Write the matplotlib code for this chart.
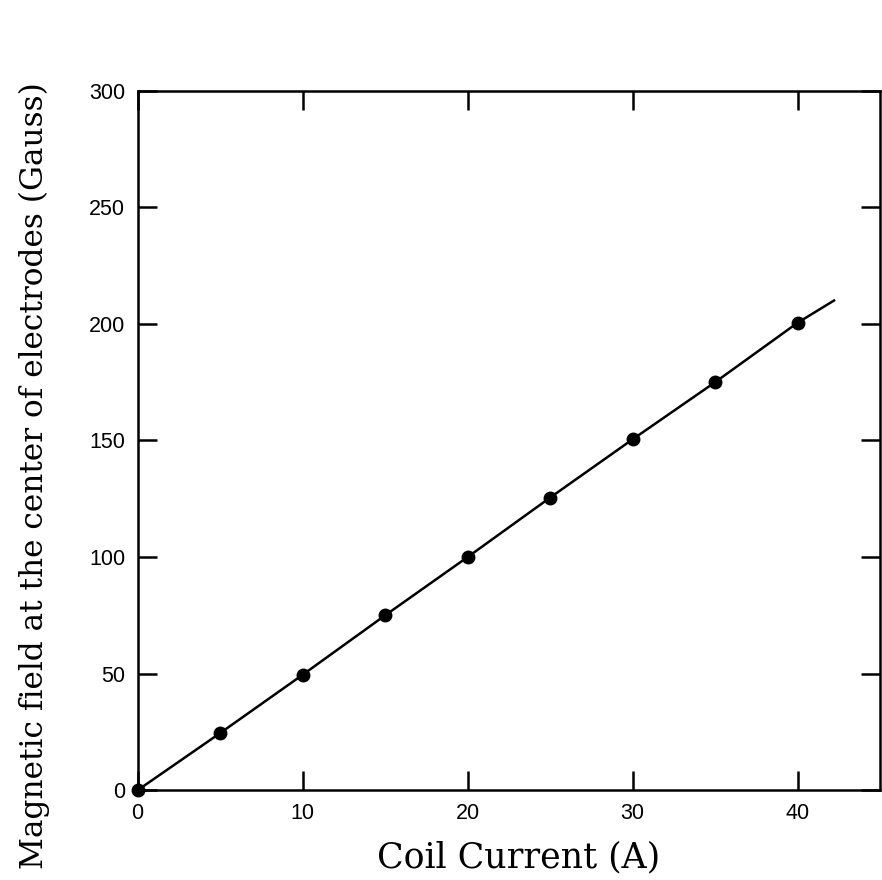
import matplotlib.pyplot as plt

# measured points (coil current in A, field in Gauss)
current = [0, 5, 10, 15, 20, 25, 30, 35, 40]
field = [0, 24.5, 49.5, 75, 100, 125.5, 150.5, 175, 200.5]

# the drawn curve follows the points and runs a little past the last one
curve_current = current + [42.2]
curve_field = field + [210]

x_ticks = [0, 10, 20, 30, 40]
y_ticks = [0, 50, 100, 150, 200, 250, 300]

fig = plt.figure(figsize=(8.82, 8.80), dpi=100)
ax = fig.add_axes([0.156, 0.102, 0.842, 0.795])

ax.plot(curve_current, curve_field, color="black", lw=1.8, clip_on=False)
ax.plot(current, field, "o", color="black", ms=9, clip_on=False, zorder=3)

ax.set_xlim(0, 45)
ax.set_ylim(0, 300)
ax.set_xticks(x_ticks)
ax.set_yticks(y_ticks)

for s in ax.spines.values():
    s.set_linewidth(1.8)

ax.tick_params(direction="in", length=14, width=1.8, top=True, right=True,
               labelsize=15.5, pad=9)
for lab in ax.get_xticklabels() + ax.get_yticklabels():
    lab.set_family("Liberation Sans")

ax.set_xlabel("Coil Current (A)", family="DejaVu Serif", fontsize=25)
ax.set_ylabel("Magnetic field at the center of electrodes (Gauss)",
              family="DejaVu Serif", fontsize=22.5)
ax.xaxis.set_label_coords(0.513, -0.072)
ax.yaxis.set_label_coords(-0.118, 0.45)

fig.savefig("out.png", dpi=100)
